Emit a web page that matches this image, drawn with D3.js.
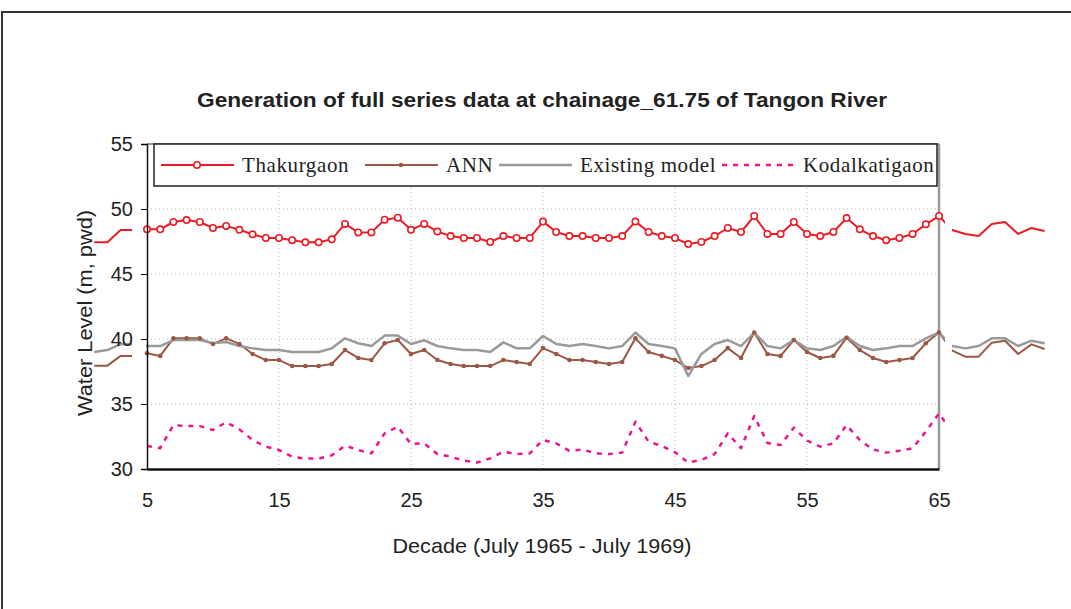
<!DOCTYPE html>
<html>
<head>
<meta charset="utf-8">
<script src="https://cdn.jsdelivr.net/npm/d3@7"></script>
<style>
  body { margin: 0; background: #fff; }
  svg { display: block; }
  text { font-family: "Liberation Sans", Arial, sans-serif; fill: #222; }
  .legend text { font-family: "Liberation Serif", "Times New Roman", serif; }
</style>
</head>
<body>
<svg width="1071" height="609"></svg>
<script>
// decades 1..73 (the chart's axis only shows 5..65, the rest spills past the plot edges)
const decades = d3.range(1, 74);

const thakurgaon = [47.44, 47.44, 48.38, 48.38,
  48.44, 48.44, 49.0, 49.15, 49.0, 48.54, 48.7, 48.4, 48.05, 47.77, 47.77, 47.6, 47.44, 47.44, 47.67, 48.85,
  48.2, 48.2, 49.18, 49.33, 48.4, 48.85, 48.26, 47.92, 47.77, 47.77, 47.46, 47.92, 47.77, 47.77, 49.03, 48.23,
  47.92, 47.92, 47.77, 47.77, 47.92, 49.03, 48.23, 47.92, 47.77, 47.3, 47.46, 47.92, 48.54, 48.23, 49.46, 48.08,
  48.08, 49.0, 48.08, 47.92, 48.23, 49.3, 48.44, 47.92, 47.6, 47.77, 48.08, 48.82, 49.46,
  48.38, 48.08, 47.92, 48.85, 49.0, 48.08, 48.54, 48.31];

const ann = [37.95, 37.95, 38.7, 38.7,
  38.9, 38.7, 40.05, 40.05, 40.05, 39.62, 40.05, 39.62, 38.85, 38.38, 38.38, 37.92, 37.92, 37.92, 38.08, 39.15,
  38.54, 38.38, 39.67, 39.92, 38.85, 39.15, 38.38, 38.08, 37.92, 37.92, 37.92, 38.38, 38.23, 38.08, 39.3, 38.85,
  38.38, 38.38, 38.23, 38.08, 38.23, 40.05, 39.0, 38.7, 38.38, 37.77, 37.92, 38.38, 39.3, 38.54, 40.5, 38.85,
  38.7, 39.92, 39.0, 38.54, 38.7, 40.1, 39.15, 38.54, 38.23, 38.38, 38.54, 39.67, 40.5,
  39.1, 38.64, 38.64, 39.72, 39.87, 38.85, 39.59, 39.23];

const existing = [39.0, 39.15, 39.6, 39.6,
  39.46, 39.46, 39.92, 39.92, 39.92, 39.67, 39.77, 39.46, 39.28, 39.15, 39.15, 39.0, 39.0, 39.0, 39.28, 40.05,
  39.67, 39.46, 40.26, 40.26, 39.62, 39.9, 39.46, 39.28, 39.15, 39.15, 39.0, 39.74, 39.28, 39.28, 40.23, 39.62,
  39.46, 39.62, 39.46, 39.28, 39.46, 40.5, 39.62, 39.46, 39.28, 37.15, 38.85, 39.62, 39.92, 39.46, 40.5, 39.46,
  39.28, 39.92, 39.28, 39.15, 39.46, 40.18, 39.46, 39.15, 39.28, 39.46, 39.46, 40.05, 40.5,
  39.46, 39.28, 39.46, 40.05, 40.05, 39.46, 39.87, 39.67];

const kodalkatigaon = [null, null, null, null,
  31.77, 31.6, 33.38, 33.3, 33.3, 33.0, 33.6, 33.05, 32.23, 31.72, 31.46, 30.95, 30.8, 30.8, 31.05, 31.8,
  31.46, 31.2, 32.74, 33.25, 31.92, 31.97, 31.15, 30.95, 30.64, 30.5, 30.82, 31.33, 31.15, 31.2, 32.23, 31.97,
  31.4, 31.5, 31.2, 31.15, 31.26, 33.64, 32.1, 31.77, 31.28, 30.5, 30.7, 31.15, 32.74, 31.6, 34.08, 32.0,
  31.85, 33.18, 32.18, 31.72, 31.97, 33.38, 32.23, 31.5, 31.26, 31.4, 31.6, 32.87, 34.28,
  32.8, null, null, null, null, null, null, null];

const xTicks = [5, 15, 25, 35, 45, 55, 65];
const yTicks = [30, 35, 40, 45, 50, 55];
const legendNames = ["Thakurgaon", "ANN", "Existing model", "Kodalkatigaon"];

const svg = d3.select("svg");
const x = d3.scaleLinear().domain([5, 65]).range([147, 939]);
const y = d3.scaleLinear().domain([30, 55]).range([469, 144]);

// outer frame
svg.append("rect").attr("x", 2).attr("y", 12).attr("width", 1100).attr("height", 700)
  .attr("fill", "none").attr("stroke", "#333").attr("stroke-width", 2);

// title
svg.append("text").attr("x", 542).attr("y", 107).attr("text-anchor", "middle")
  .style("font-size", "20px").style("font-weight", "bold")
  .attr("textLength", 690).attr("lengthAdjust", "spacingAndGlyphs")
  .text("Generation of full series data at chainage_61.75 of Tangon River");

// grid
const grid = svg.append("g").attr("stroke", "#b5b5b5").attr("stroke-dasharray", "1,3");
grid.selectAll("line.h").data(yTicks.filter(v => v > 30 && v < 55)).enter().append("line")
  .attr("x1", x(5)).attr("x2", x(65)).attr("y1", d => y(d)).attr("y2", d => y(d));
grid.selectAll("line.v").data(xTicks.filter(v => v > 5 && v < 65)).enter().append("line")
  .attr("y1", y(30)).attr("y2", y(55)).attr("x1", d => x(d)).attr("x2", d => x(d));

// plot area border (top / right grey)
svg.append("line").attr("x1", x(5)).attr("x2", x(65)).attr("y1", y(55)).attr("y2", y(55))
  .attr("stroke", "#999").attr("stroke-width", 2);
svg.append("line").attr("x1", x(65)).attr("x2", x(65)).attr("y1", y(55)).attr("y2", y(30))
  .attr("stroke", "#999").attr("stroke-width", 2.5);

// clip: lines show left of the y labels, inside the plot, and past the right edge
const defs = svg.append("defs");
const clip = defs.append("clipPath").attr("id", "clip");
clip.append("rect").attr("x", 0).attr("y", 0).attr("width", 132).attr("height", 609);
clip.append("rect").attr("x", 146).attr("y", 0).attr("width", 799).attr("height", 609);
clip.append("rect").attr("x", 952).attr("y", 0).attr("width", 200).attr("height", 609);

const series = [
  { name: legendNames[0], values: thakurgaon, color: "#ec1c24", width: 2, dash: null },
  { name: legendNames[1], values: ann, color: "#9b5843", width: 2, dash: null },
  { name: legendNames[2], values: existing, color: "#9a9a9a", width: 2.5, dash: null },
  { name: legendNames[3], values: kodalkatigaon, color: "#f0148c", width: 2.5, dash: "5,6" }
];

const line = d3.line()
  .defined(d => d[1] != null)
  .x(d => x(d[0]))
  .y(d => y(d[1]));

const linesG = svg.append("g").attr("clip-path", "url(#clip)");
series.forEach(s => {
  linesG.append("path")
    .datum(decades.map((d, i) => [d, s.values[i]]))
    .attr("fill", "none")
    .attr("stroke", s.color)
    .attr("stroke-width", s.width)
    .attr("stroke-dasharray", s.dash)
    .attr("stroke-linejoin", "round")
    .attr("d", line);
});

// markers only inside axis range
const inRange = decades.map((d, i) => i).filter(i => decades[i] >= 5 && decades[i] <= 65);
svg.append("g").selectAll("circle").data(inRange).enter().append("circle")
  .attr("cx", i => x(decades[i])).attr("cy", i => y(ann[i])).attr("r", 2.3)
  .attr("fill", "#9b5843");
svg.append("g").selectAll("circle").data(inRange).enter().append("circle")
  .attr("cx", i => x(decades[i])).attr("cy", i => y(thakurgaon[i])).attr("r", 3.2)
  .attr("fill", "#fff").attr("stroke", "#ec1c24").attr("stroke-width", 1.6);

// axes
const yAxis = svg.append("g").attr("transform", `translate(${x(5)},0)`)
  .call(d3.axisLeft(y).tickValues(yTicks).tickSize(6).tickPadding(8));
yAxis.selectAll("text").style("font-size", "20px").attr("fill", "#222");
yAxis.select(".domain").attr("stroke", "#111").attr("stroke-width", 1.5);

const xAxis = svg.append("g").attr("transform", `translate(0,${y(30)})`)
  .call(d3.axisBottom(x).tickValues(xTicks).tickSize(0).tickPadding(24));
xAxis.selectAll("text").style("font-size", "20px").attr("fill", "#222");
xAxis.select(".domain").attr("stroke", "#111").attr("stroke-width", 2.5);

svg.append("text").attr("x", 542).attr("y", 553).attr("text-anchor", "middle")
  .style("font-size", "21px").attr("textLength", 299).attr("lengthAdjust", "spacingAndGlyphs")
  .text("Decade (July 1965 - July 1969)");
svg.append("text").attr("transform", "translate(92,313) rotate(-90)").attr("text-anchor", "middle")
  .style("font-size", "21px").attr("textLength", 206).attr("lengthAdjust", "spacingAndGlyphs")
  .text("Water Level (m, pwd)");

// legend
const lg = svg.append("g").attr("class", "legend");
lg.append("rect").attr("x", 154).attr("y", 144).attr("width", 783).attr("height", 42)
  .attr("fill", "#fff").attr("stroke", "#222").attr("stroke-width", 1.5);
const legendX = [161, 365, 499, 722];
series.forEach((s, k) => {
  const x0 = legendX[k];
  lg.append("line").attr("x1", x0).attr("x2", x0 + 73).attr("y1", 165).attr("y2", 165)
    .attr("stroke", s.color).attr("stroke-width", s.width).attr("stroke-dasharray", s.dash);
  if (k === 0) {
    lg.append("circle").attr("cx", x0 + 36).attr("cy", 165).attr("r", 3.2)
      .attr("fill", "#fff").attr("stroke", s.color).attr("stroke-width", 1.6);
  } else if (k === 1) {
    lg.append("circle").attr("cx", x0 + 36).attr("cy", 165).attr("r", 2.3).attr("fill", s.color);
  }
  lg.append("text").attr("x", x0 + 81).attr("y", 172)
    .style("font-size", "21px").style("letter-spacing", "0.6px").text(s.name);
});
</script>
</body>
</html>
